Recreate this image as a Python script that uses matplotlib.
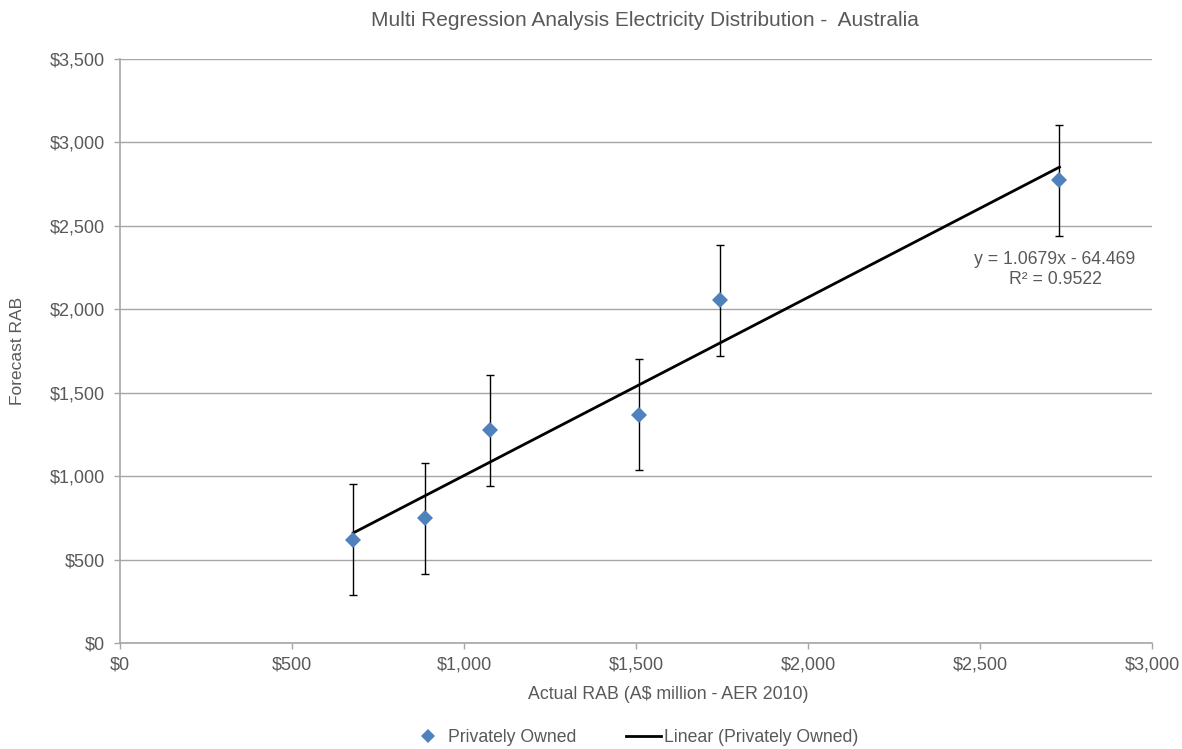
import matplotlib
matplotlib.use("Agg")
import matplotlib.pyplot as plt
from matplotlib.lines import Line2D
import numpy as np

plt.rcParams['font.family'] = ['Liberation Sans', 'DejaVu Sans']

# Data
actual_rab = [678, 886, 1076, 1510, 1744, 2731]
forecast_rab = [618, 748, 1276, 1368, 2054, 2774]
error_half = [333, 333, 333, 333, 333, 333]
trend_slope = 1.0679
trend_intercept = -64.469
r_squared = 0.9522
x_ticks = [0, 500, 1000, 1500, 2000, 2500, 3000]
y_ticks = [0, 500, 1000, 1500, 2000, 2500, 3000, 3500]

text_col = '#595959'
grid_col = '#a6a6a6'
blue = '#4F81BD'

fig = plt.figure(figsize=(11.82, 7.49), dpi=100)
ax = fig.add_axes([120/1182, 1-643/749, 1032/1182, 584/749])

ax.set_xlim(0, 3000)
ax.set_ylim(0, 3500)
ax.set_xticks(x_ticks)
ax.set_yticks(y_ticks)
ax.set_xticklabels([f"${v:,}" for v in x_ticks])
ax.set_yticklabels([f"${v:,}" for v in y_ticks])
ax.yaxis.grid(True, color=grid_col, linewidth=1.0)
ax.set_axisbelow(True)
for s in ['top', 'right']:
    ax.spines[s].set_visible(False)
for s in ['left', 'bottom']:
    ax.spines[s].set_color(grid_col)
    ax.spines[s].set_linewidth(1.2)
ax.tick_params(axis='both', colors=grid_col, labelcolor=text_col, labelsize=13,
               length=4, width=1.0, direction='out')
ax.tick_params(axis='y', pad=7)
ax.tick_params(axis='x', pad=6)

# error bars
ax.errorbar(actual_rab, forecast_rab, yerr=error_half, fmt='none', ecolor='black',
            elinewidth=1.0, capsize=3, capthick=1.0, zorder=2)
# trend line
xt = np.array([min(actual_rab), max(actual_rab)])
ax.plot(xt, trend_slope*xt + trend_intercept, color='black', linewidth=2.0, zorder=3)
# points
ax.plot(actual_rab, forecast_rab, linestyle='none', marker='D', markersize=8.5,
        color=blue, markeredgewidth=0, zorder=4)

sign = '-' if trend_intercept < 0 else '+'
ax.text(2718, 2298, f"y = {trend_slope}x {sign} {abs(trend_intercept)}",
        ha='center', va='center', fontsize=12.7, color=text_col)
ax.text(2718, 2178, f"R² = {r_squared}",
        ha='center', va='center', fontsize=12.7, color=text_col)

ax.set_xlabel("Actual RAB (A$ million - AER 2010)", fontsize=12.8, color=text_col)
ax.xaxis.set_label_coords((668-120)/1032, -(686-643)/584)
ax.set_ylabel("Forecast RAB", fontsize=12.5, color=text_col)
ax.yaxis.set_label_coords(-(120-25)/1032, 0.5)
fig.text(645/1182, 1-20/749, "Multi Regression Analysis Electricity Distribution -  Australia",
         ha='center', va='center', fontsize=15, color=text_col)

handles = [Line2D([], [], linestyle='none', marker='D', markersize=7, color=blue, markeredgewidth=0),
           Line2D([], [], color='black', linewidth=2.0)]
fig.legend(handles, ["Privately Owned", "Linear (Privately Owned)"], loc='center',
           bbox_to_anchor=(634/1182, 1-738/749), ncol=2, frameon=False, fontsize=12.7,
           labelcolor=text_col, handlelength=2.0, handletextpad=0.15, columnspacing=2.8)

fig.savefig("out.png", dpi=100)
